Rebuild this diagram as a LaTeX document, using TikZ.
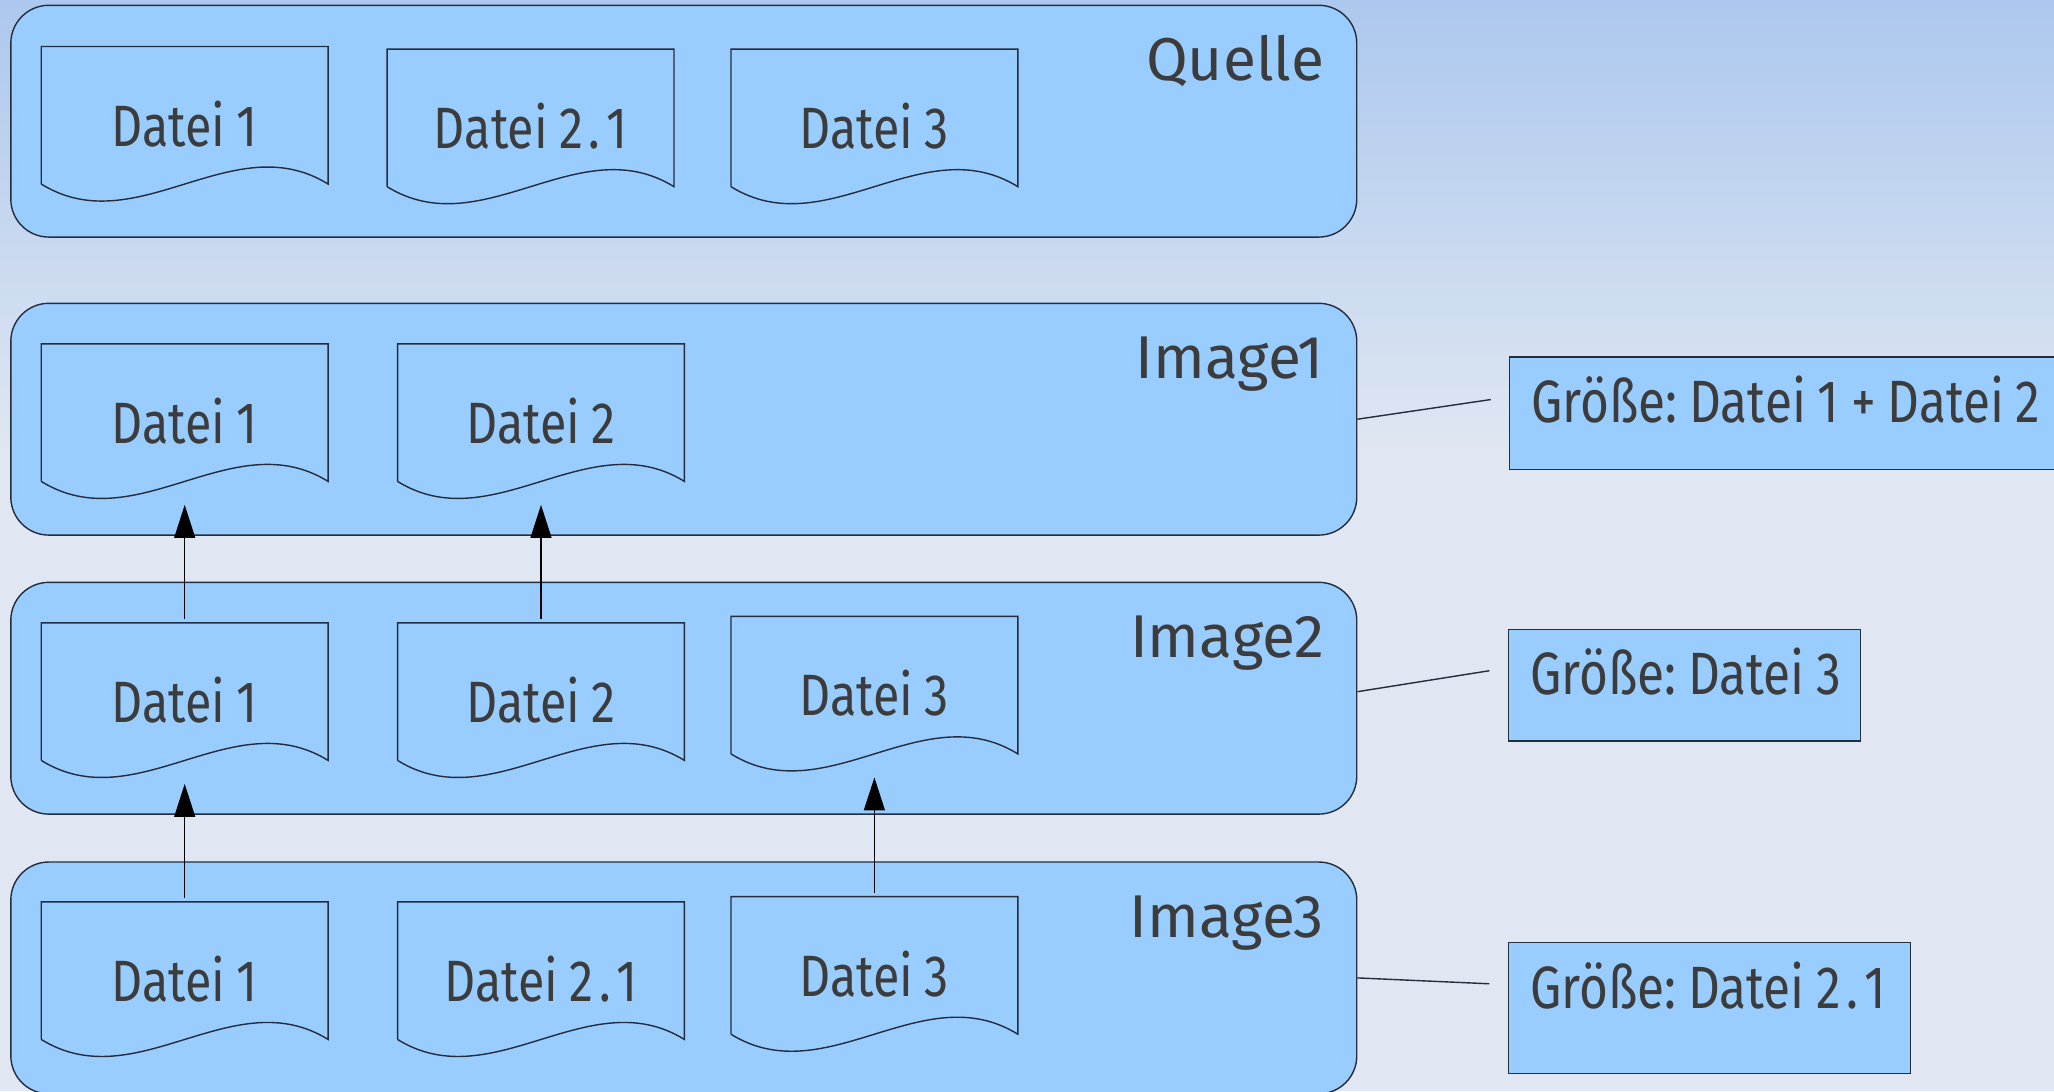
\documentclass[tikz,border=0pt]{standalone}
\usepackage{fontspec}
\setmainfont{Fira Sans}
\newfontfamily\schmal[FakeStretch=0.83,WordSpace=0.9]{Fira Sans}
\usetikzlibrary{arrows.meta,calc}
\definecolor{hellblau}{RGB}{153,204,255}
\definecolor{rand}{RGB}{35,45,60}
\definecolor{schrift}{RGB}{60,60,60}
\definecolor{bgoben}{RGB}{172,200,238}
\definecolor{bgunten}{RGB}{224,231,242}
\frenchspacing
\newcommand{\pkt}{\kern1.6pt.\kern1.6pt}

\begin{document}
\begin{tikzpicture}[x=0.0131cm, y=-0.0131cm,
    reihe/.style={draw=rand, fill=hellblau, line width=0.4pt, rounded corners=0.38cm,
      minimum width=13.467cm, minimum height=2.319cm, inner sep=0pt},
    titel/.style={anchor=base east, inner sep=0pt, text=schrift, font=\fontsize{17.2}{20}\selectfont},
    datei/.style={minimum width=2.856cm, minimum height=1.362cm, inner sep=0pt,
      text height=0.617cm, text depth=0pt, text=schrift, font=\schmal\fontsize{16.6}{19}\selectfont},
    groesse/.style={draw=rand, fill=hellblau, line width=0.4pt, anchor=north west,
      inner xsep=0.217cm, inner ysep=0pt, text height=0.655cm,
      text=schrift, font=\schmal\fontsize{17}{20}\selectfont},
    pfeil/.style={-{Triangle[length=0.33cm,width=0.21cm]}, draw=black, line width=0.4pt},
    linie/.style={draw=rand, line width=0.4pt}]
    \useasboundingbox (0,0) rectangle (1568,833);
    \clip (0,0) rectangle (1568,833);
    \shade[top color=bgoben, bottom color=bgunten] (0,0) rectangle (1568,346);
    \fill[bgunten] (0,345) rectangle (1568,833);

    \node[reihe] (q) at (522,92.5) {};
    \node[reihe] (i1) at (522,320) {};
    \node[reihe] (i2) at (522,533) {};
    \node[reihe] (i3) at (522,746.5) {};
    \node[titel] (tq) at ($(q.north east)+(-25,58)$) {Quelle};
    \node[titel] (t1) at ($(i1.north east)+(-25,58)$) {Image1};
    \node[titel] (t2) at ($(i2.north east)+(-25,58)$) {Image2};
    \node[titel] (t3) at ($(i3.north east)+(-25,58)$) {Image3};

    \node[datei] (q1) at (141,88) {Datei 1};
    \node[datei] (q2) at (405,90) {Datei 2\pkt1};
    \node[datei] (q3) at (667.5,90) {Datei 3};
    \node[datei] (i1a) at (141,315) {Datei 1};
    \node[datei] (i1b) at (413,315) {Datei 2};
    \node[datei] (i2a) at (141,528) {Datei 1};
    \node[datei] (i2b) at (413,528) {Datei 2};
    \node[datei] (i2c) at (667.5,523) {Datei 3};
    \node[datei] (i3a) at (141,741) {Datei 1};
    \node[datei] (i3b) at (413,741) {Datei 2\pkt1};
    \node[datei] (i3c) at (667.5,737) {Datei 3};
    \foreach \d in {q1,q2,q3,i1a,i1b,i2a,i2b,i2c,i3a,i3b,i3c}
      \draw[linie] (\d.south west) -- (\d.north west) -- (\d.north east) -- (\d.south east)
        .. controls +(-72.7,-45) and +(72.7,45) .. (\d.south west);

    \draw[pfeil] ([yshift=1.1pt]i2a.north) -- ([yshift=-6.7pt]i1a.south);
    \draw[pfeil] ([yshift=1.1pt]i2b.north) -- ([yshift=-6.7pt]i1b.south);
    \draw[pfeil] ([yshift=1.1pt]i3a.north) -- ([yshift=-6.7pt]i2a.south);
    \draw[pfeil] ([yshift=1.1pt]i3c.north) -- ([yshift=-6.7pt]i2c.south);

    \node[groesse, text depth=0.472cm] (g1) at (1152,272) {\makebox[5.068cm][l]{Größe: Datei 1 + Datei 2}};
    \node[groesse, text depth=0.459cm] (g2) at (1151,480) {\makebox[3.09cm][l]{Größe: Datei 3}};
    \node[groesse, text depth=0.655cm] (g3) at (1151,719) {\makebox[3.588cm][l]{Größe: Datei 2\pkt1}};
    \coordinate (e1) at (1138,305);
    \coordinate (e2) at (1137,512);
    \coordinate (e3) at (1137,751);
    \draw[linie] (i1.east) -- (e1);
    \draw[linie] ($(i2.east)+(0,-5)$) -- (e2);
    \draw[linie] (i3.east) -- (e3);
\end{tikzpicture}
\end{document}
